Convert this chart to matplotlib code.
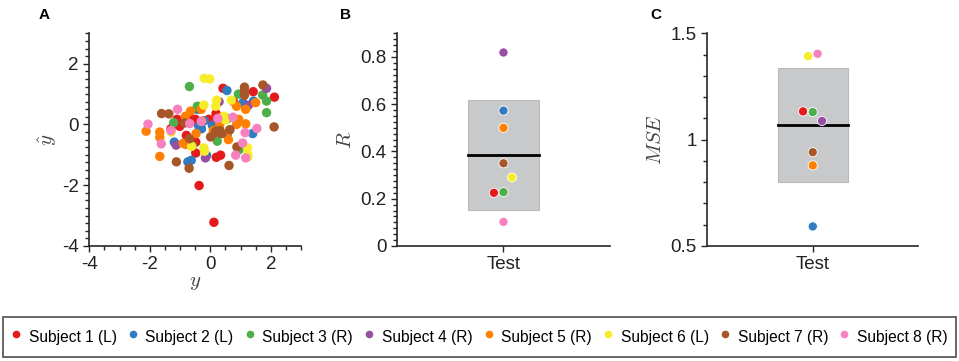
import numpy as np
import matplotlib.pyplot as plt
from matplotlib.lines import Line2D
from matplotlib.ticker import MultipleLocator

plt.rcParams['font.family'] = ['Liberation Sans', 'DejaVu Sans']
plt.rcParams['mathtext.fontset'] = 'cm'
plt.rcParams['axes.unicode_minus'] = False

# subjects and colours
subjects = ['Subject 1 (L)', 'Subject 2 (L)', 'Subject 3 (R)', 'Subject 4 (R)',
            'Subject 5 (R)', 'Subject 6 (L)', 'Subject 7 (R)', 'Subject 8 (R)']
colors = ['#e41a1c', '#2f7dc0', '#4daf4a', '#984ea3',
          '#ff7f00', '#f7ec2a', '#a65628', '#f781bf']

# panel A: true y vs predicted y-hat, per subject
y_true = [
    [0.42, 1.42, 2.12, 0.76, 0.19, -0.05, -0.49, -0.65, -1.1, -1.3, -1.01, -0.79, -0.48, 0.19, -0.48, 0.2, 0.34, -0.37, 0.12, -0.55],
    [0.55, 1.08, 1.43, 0.56, 0.07, -0.29, -0.38, -0.43, 0.56, 1.4, -1.19, -0.12, -0.74, -0.63, -0.32, -0.2],
    [-0.69, 0.93, 1.73, 1.86, 1.86, -0.43, -1.21, 0.23, 0.95, -0.38, -0.6, 0.3],
    [1.86, 0.29, 1.26, 0.23, -1.13, -0.16],
    [-0.3, -0.65, -0.82, -0.28, 0.34, 0.31, 0.94, 0.87, 1.17, 1.5, 1.17, 0.87, -2.12, -1.67, -1.67, -1.67, -0.81, -0.47, 0.6, 0.62, -0.9, 0.1],
    [-0.2, -0.02, -0.21, 0.21, 0.7, 0.45, -1.29, 1.23, 1.24, 1.24, -0.21, -0.19, 0.18, -0.62, 0.5],
    [-1.61, -1.37, 1.13, 1.13, 1.13, 1.74, 2.11, 0.18, 0.31, 0.38, 0.01, 0.65, -0.69, 0.88, -1.12, -0.7, 0.62, -0.85],
    [-2.06, -1.62, -1.08, -1.3, -0.68, 0.75, 1.15, 1.54, 1.07, 0.84, 1.17, 0.25, -0.3],
]
y_pred = [
    [1.19, 1.08, 0.90, 0.76, 0.36, 0.17, 0.17, 0.17, 0.17, -0.14, -0.06, -0.36, -0.58, -0.39, -0.94, -1.08, -1.01, -2.01, -3.22, 0.1],
    [1.12, 0.72, 0.77, 0.19, -0.03, -0.14, -0.06, 0.5, -0.33, -0.3, -0.58, -1.02, -1.23, -1.18, -0.09, 0.12],
    [1.25, 1.0, 0.97, 0.77, 0.39, 0.6, 0.06, -0.55, -0.83, 0.57, -0.7, -0.1],
    [1.19, 0.75, 0.63, 0.17, -0.68, -1.1],
    [0.5, 0.44, 0.27, 0.11, 0.22, 0.0, 0.17, 0.0, 0.02, 0.72, 0.5, 0.6, -0.22, -0.25, -0.42, -1.05, -0.66, -0.3, -0.5, -0.2, -0.62, -0.2],
    [1.52, 1.5, 0.64, 0.8, 0.8, 0.27, -0.25, -0.77, -0.99, -1.07, -0.77, -0.88, 0.6, -0.72, 0.15],
    [0.36, 0.35, 1.23, 1.1, 0.96, 1.3, -0.08, -0.22, -0.2, -0.3, -0.41, -0.17, -0.47, -0.74, -1.23, -1.44, -1.35, 0.05],
    [0.01, -0.64, 0.5, -0.2, 0.03, 0.24, -0.27, -0.13, -0.61, -1.01, -1.1, 0.2, 0.1],
]

# panel B and C: per-subject R and MSE on the test set
r_test = [0.225, 0.573, 0.228, 0.819, 0.50, 0.29, 0.35, 0.102]
r_jitter = [-0.045, 0.0, 0.0, 0.0, 0.0, 0.04, 0.0, 0.0]
mse_test = [1.133, 0.592, 1.130, 1.088, 0.879, 1.393, 0.941, 1.404]
mse_jitter = [-0.046, 0.0, 0.0, 0.044, 0.0, -0.022, 0.0, 0.023]

fig = plt.figure(figsize=(9.59, 3.61), dpi=100)
axA = fig.add_axes([0.0931, 0.3186, 0.2208, 0.589])
axB = fig.add_axes([0.414, 0.3186, 0.222, 0.589])
axC = fig.add_axes([0.7375, 0.3186, 0.22, 0.589])

spine_col = '#262626'
for ax in (axA, axB, axC):
    for s in ('top', 'right'):
        ax.spines[s].set_visible(False)
    for s in ('left', 'bottom'):
        ax.spines[s].set_color(spine_col)
        ax.spines[s].set_linewidth(1.2)
    ax.tick_params(which='both', direction='out', colors=spine_col, labelsize=13.5,
                   labelcolor='#222222')
    ax.tick_params(which='major', length=4, width=1)
    ax.tick_params(which='minor', length=3, width=1)

# A
for i in range(8):
    axA.scatter(y_true[i], y_pred[i], s=46, color=colors[i], edgecolors='none',
                zorder=3)
axA.set_xlim(-4, 3)
axA.set_ylim(-4, 3)
axA.set_xticks([-4, -2, 0, 2])
axA.set_yticks([-4, -2, 0, 2])
axA.xaxis.set_minor_locator(MultipleLocator(0.5))
axA.yaxis.set_minor_locator(MultipleLocator(0.25))
axA.set_xlabel(r'$y$', fontsize=15, color='#444444', labelpad=0)
axA.set_ylabel(r'$\hat{y}$', fontsize=15, color='#444444', labelpad=2)


def summary_panel(ax, vals, jit):
    vals = np.array(vals)
    m = vals.mean()
    sd = vals.std(ddof=1)
    ax.add_patch(plt.Rectangle((1 - 0.165, m - sd), 0.33, 2 * sd,
                               facecolor='#c8c9cb', edgecolor='#b8b9bb',
                               linewidth=0.8, zorder=1))
    ax.plot([1 - 0.165, 1 + 0.165], [m, m], color='black', lw=2, zorder=2)
    ax.scatter(1 + np.array(jit), vals, s=44, c=colors, edgecolors='white',
               linewidths=0.6, zorder=3)
    ax.set_xlim(0.5, 1.5)
    ax.set_xticks([1])
    ax.set_xticklabels(['Test'])


# B
summary_panel(axB, r_test, r_jitter)
axB.set_ylim(0, 0.9)
axB.set_yticks([0, 0.2, 0.4, 0.6, 0.8])
axB.set_yticklabels(['0', '0.2', '0.4', '0.6', '0.8'])
axB.yaxis.set_minor_locator(MultipleLocator(0.025))
axB.set_ylabel(r'$R$', fontsize=15, color='#444444', labelpad=4)

# C
summary_panel(axC, mse_test, mse_jitter)
axC.set_ylim(0.5, 1.5)
axC.set_yticks([0.5, 1, 1.5])
axC.set_yticklabels(['0.5', '1', '1.5'])
axC.yaxis.set_minor_locator(MultipleLocator(0.1))
axC.set_ylabel(r'$MSE$', fontsize=15, color='#444444', labelpad=4)

# panel letters
fig.text(39 / 959, 1 - 15 / 361, 'A', fontsize=11, fontweight='bold', va='center')
fig.text(340 / 959, 1 - 15 / 361, 'B', fontsize=11, fontweight='bold', va='center')
fig.text(650 / 959, 1 - 15 / 361, 'C', fontsize=11, fontweight='bold', va='center')

# legend
handles = [Line2D([], [], marker='o', linestyle='none', markersize=5.5,
                  markerfacecolor=c, markeredgecolor='none') for c in colors]
leg = fig.legend(handles, subjects, ncol=8, mode='expand',
                 bbox_to_anchor=(0.003, 0.01, 0.994, 0.125), loc='lower left',
                 fontsize=11.2, frameon=True, fancybox=False, handlelength=0.6,
                 handleheight=1.9, handletextpad=0.5, borderaxespad=0,
                 columnspacing=0.5, borderpad=0.55)
leg.get_frame().set_edgecolor('#333333')
leg.get_frame().set_linewidth(1.3)

fig.savefig('out.png', dpi=100)
